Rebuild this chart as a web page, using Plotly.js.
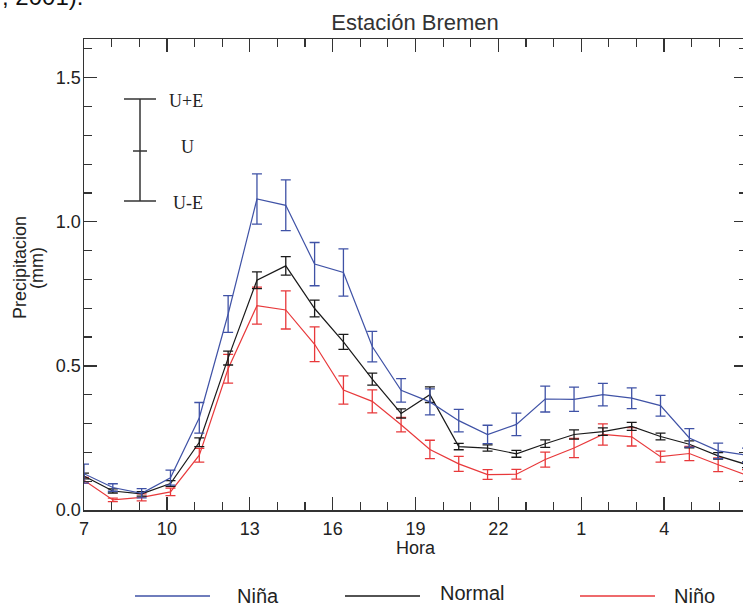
<!DOCTYPE html>
<html>
<head>
<meta charset="utf-8">
<script src="https://cdn.plot.ly/plotly-3.0.1.min.js"></script>
<style>
html,body{margin:0;padding:0;overflow:hidden;background:#fff;}
#chart{width:750px;height:607px;}
</style>
</head>
<body>
<div id="chart"></div>
<script>
// ---- data ----
const horas = [7,8,9,10,11,12,13,14,15,16,17,18,19,20,21,22,23,24,25,26,27,28,29,30];
const tickHoras = [7,10,13,16,19,22,25,28,31];
const tickLabels = ["7","10","13","16","19","22","1","4","7"];
const yTicks = [0,0.5,1.0,1.5];
const yLabels = ["0.0","0.5","1.0","1.5"];

const nina   = [0.126,0.078,0.058,0.112,0.320,0.680,1.079,1.057,0.853,0.824,0.567,0.415,0.375,0.310,0.262,0.297,0.385,0.384,0.400,0.388,0.362,0.250,0.205,0.190];
const ninaE  = [0.033,0.013,0.016,0.026,0.053,0.064,0.087,0.088,0.075,0.082,0.053,0.041,0.045,0.039,0.032,0.039,0.045,0.042,0.039,0.036,0.036,0.032,0.027,0.025];
const normal = [0.118,0.066,0.056,0.092,0.235,0.527,0.797,0.847,0.699,0.583,0.454,0.335,0.400,0.220,0.215,0.195,0.230,0.262,0.272,0.290,0.255,0.228,0.188,0.157];
const normalE= [0.010,0.007,0.008,0.010,0.015,0.024,0.029,0.032,0.029,0.026,0.021,0.016,0.027,0.011,0.011,0.012,0.013,0.016,0.013,0.014,0.012,0.012,0.011,0.010];
const nino   = [0.103,0.035,0.044,0.063,0.190,0.490,0.709,0.694,0.575,0.416,0.377,0.296,0.210,0.160,0.123,0.124,0.175,0.215,0.262,0.254,0.185,0.196,0.157,0.120];
const ninoE  = [0.010,0.006,0.012,0.013,0.024,0.050,0.064,0.066,0.060,0.049,0.040,0.025,0.032,0.026,0.017,0.017,0.026,0.033,0.037,0.032,0.019,0.025,0.024,0.020];

const seriesNames = ["Niña","Normal","Niño"];
const colors = ["#3f52a6","#1a1a1a","#e8393b"];

// ---- layout geometry ----
const W = 750, H = 607, ML = 84, MR = 3, MT = 39, MB = 97;
const PW = W - ML - MR, PH = H - MT - MB;
const px = x => (x - ML) / PW;
const py = y => (H - MB - y) / PH;

function trace(y, e, name, color){
  return {
    x: horas, y: y, name: name, type: 'scatter', mode: 'lines',
    xaxis: 'x2', yaxis: 'y',
    line: {color: color, width: 1.2},
    error_y: {type: 'data', array: e, visible: true, color: color, thickness: 1.3, width: 5},
    showlegend: false, hoverinfo: 'skip'
  };
}

const data = [
  // empty trace so that the visible hour axis (x) is drawn
  {x: [null], y: [null], xaxis: 'x', yaxis: 'y', type: 'scatter', mode: 'markers', showlegend: false, hoverinfo: 'skip'},
  trace(nino, ninoE, seriesNames[2], colors[2]),
  trace(normal, normalE, seriesNames[1], colors[1]),
  trace(nina, ninaE, seriesNames[0], colors[0])
];

const axCol = '#333';
const fontTxt = 'Arial, "Liberation Sans", sans-serif';

const shapes = [];
const annotations = [];

// error bar key inset
const ink = {color: axCol, width: 1.5};
shapes.push({type:'line', xref:'paper', yref:'paper', x0:px(140), x1:px(140), y0:py(99), y1:py(201), line:ink});
shapes.push({type:'line', xref:'paper', yref:'paper', x0:px(124), x1:px(156), y0:py(99), y1:py(99), line:ink});
shapes.push({type:'line', xref:'paper', yref:'paper', x0:px(124), x1:px(156), y0:py(201), y1:py(201), line:ink});
shapes.push({type:'line', xref:'paper', yref:'paper', x0:px(133), x1:px(147), y0:py(151), y1:py(151), line:ink});
const serif = '"Liberation Serif", "DejaVu Serif", serif';
annotations.push({xref:'paper', yref:'paper', x:px(167), y:py(101), xanchor:'left', yanchor:'middle', text:'U+E', showarrow:false, font:{family:serif, size:18, color:'#222'}});
annotations.push({xref:'paper', yref:'paper', x:px(187), y:py(147), xanchor:'center', yanchor:'middle', text:'U', showarrow:false, font:{family:serif, size:18, color:'#222'}});
annotations.push({xref:'paper', yref:'paper', x:px(171), y:py(203), xanchor:'left', yanchor:'middle', text:'U-E', showarrow:false, font:{family:serif, size:18, color:'#222'}});

// bottom legend
const legLines = [[135,210],[345,420],[580,655]];
const legText = [[235,596],[438,593],[672,596]];
for (let k = 0; k < 3; k++){
  shapes.push({type:'line', xref:'paper', yref:'paper', x0:px(legLines[k][0]), x1:px(legLines[k][1]), y0:py(596), y1:py(596), line:{color:colors[k], width:1.3}});
  annotations.push({xref:'paper', yref:'paper', x:px(legText[k][0]), y:py(legText[k][1]), xanchor:'left', yanchor:'middle', text:seriesNames[k], showarrow:false, font:{family:fontTxt, size:20, color:'#222'}});
}

// y axis title (two lines)
annotations.push({xref:'paper', yref:'paper', x:px(20), y:py(268), xanchor:'center', yanchor:'middle', textangle:-90,
  text:'Precipitacion', showarrow:false, font:{family:fontTxt, size:18, color:'#222'}});
annotations.push({xref:'paper', yref:'paper', x:px(37), y:py(268), xanchor:'center', yanchor:'middle', textangle:-90,
  text:'(mm)', showarrow:false, font:{family:fontTxt, size:18, color:'#222'}});
// x axis title
annotations.push({xref:'paper', yref:'paper', x:px(416), y:py(548), xanchor:'center', yanchor:'middle',
  text:'Hora', showarrow:false, font:{family:fontTxt, size:18, color:'#222'}});
// cut-off text from the page above
annotations.push({xref:'paper', yref:'paper', x:px(0), y:py(12), xanchor:'left', yanchor:'bottom',
  text:', 2001).', showarrow:false, font:{family:fontTxt, size:24, color:'#111'}});

const layout = {
  width: W, height: H,
  margin: {l: ML, r: MR, t: MT, b: MB, pad: 0},
  paper_bgcolor: '#fff', plot_bgcolor: '#fff',
  title: {text: 'Estación Bremen', x: px(415), xref: 'paper', xanchor: 'center', y: 1 - 22/H, yanchor: 'middle',
          font: {family: fontTxt, size: 22, color: '#333'}},
  xaxis: {
    range: [7, 31], tickvals: tickHoras, ticktext: tickLabels,
    ticks: 'inside', ticklen: 13, tickwidth: 1.3, tickcolor: axCol,
    minor: {dtick: 1, tick0: 7, ticks: 'inside', ticklen: 8, tickwidth: 1.2, tickcolor: axCol},
    showline: true, linecolor: axCol, linewidth: 1.5, mirror: 'ticks',
    showgrid: false, zeroline: false, fixedrange: true,
    tickfont: {family: fontTxt, size: 18, color: '#222'}, ticklabelstandoff: 2
  },
  xaxis2: {range: [7, 30], overlaying: 'x', visible: false, fixedrange: true},
  yaxis: {
    range: [0, 1.634], tickvals: yTicks, ticktext: yLabels,
    ticks: 'inside', ticklen: 13, tickwidth: 1.3, tickcolor: axCol,
    minor: {dtick: 0.1, tick0: 0, ticks: 'inside', ticklen: 8, tickwidth: 1.2, tickcolor: axCol},
    showline: true, linecolor: axCol, linewidth: 1.5, mirror: 'ticks',
    showgrid: false, zeroline: false, fixedrange: true,
    tickfont: {family: fontTxt, size: 18, color: '#222'}, ticklabelstandoff: -2
  },
  shapes: shapes,
  annotations: annotations
};

Plotly.newPlot('chart', data, layout, {staticPlot: true, displayModeBar: false});
</script>
</body>
</html>
